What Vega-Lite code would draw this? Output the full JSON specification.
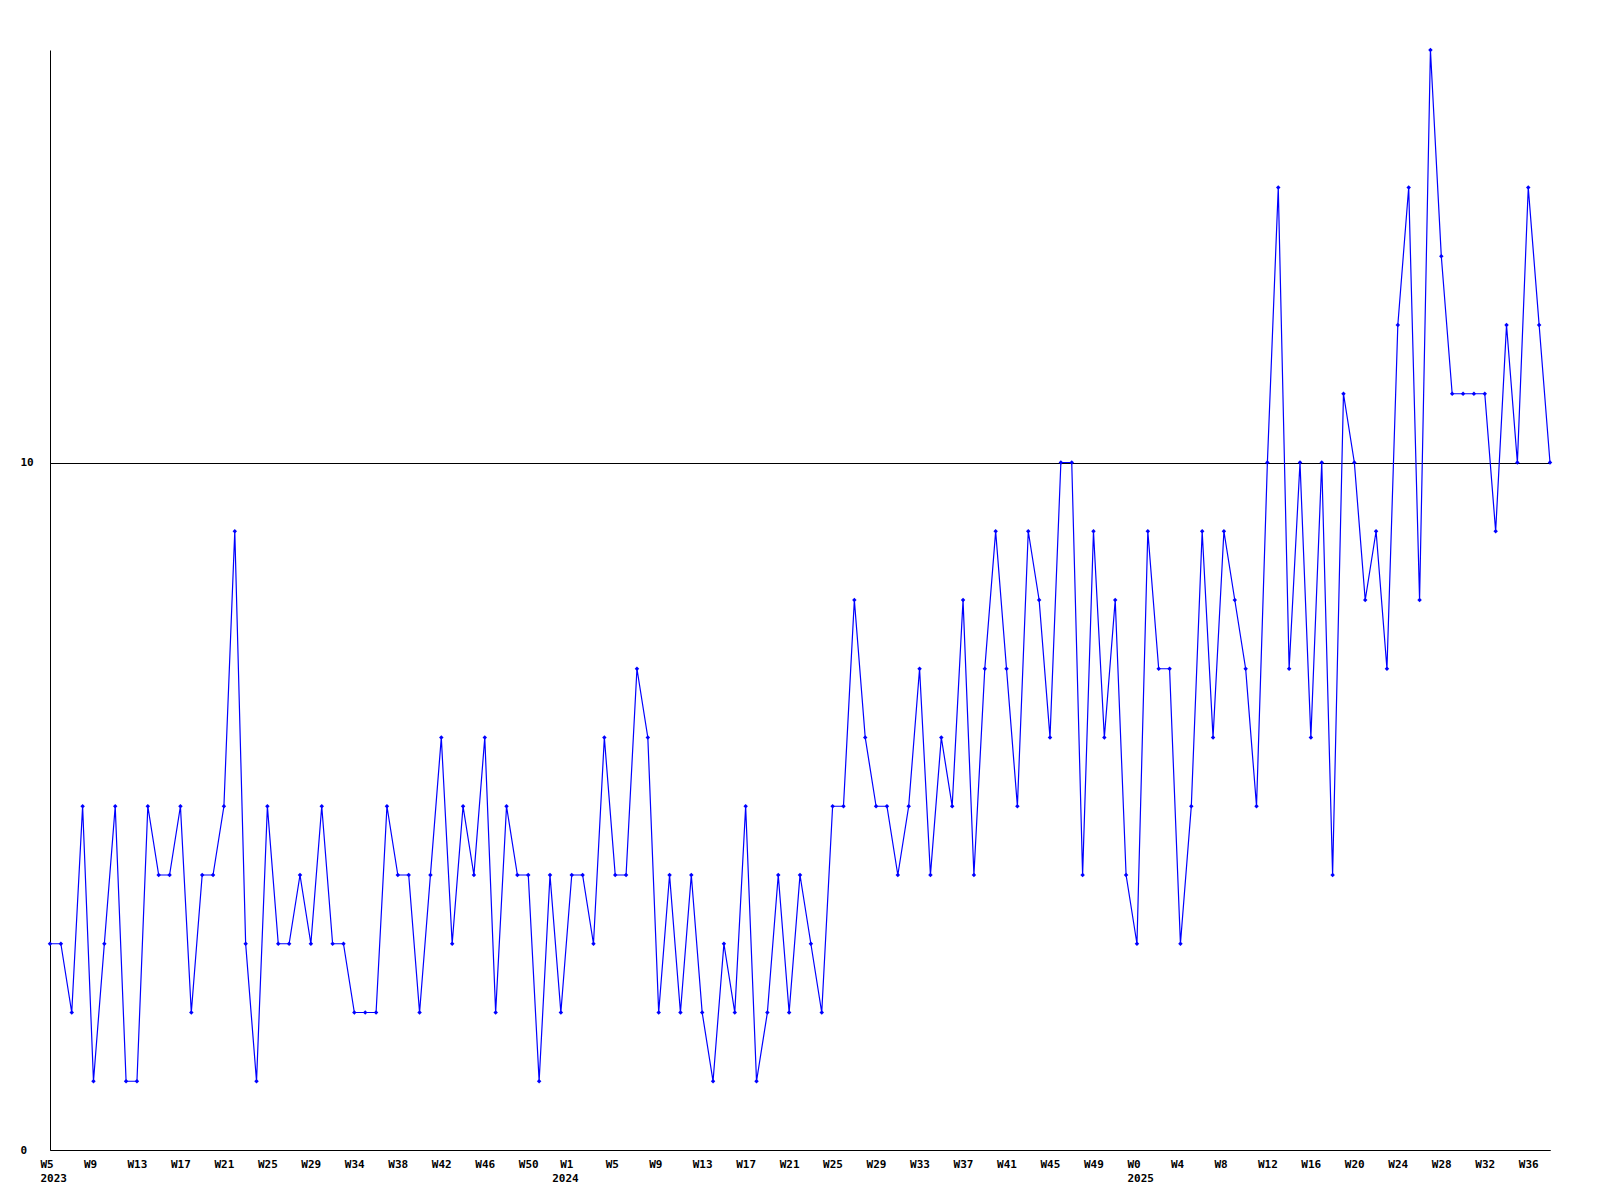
{
  "$schema": "https://vega.github.io/schema/vega-lite/v6.json",
  "autosize": {"type": "none"},
  "padding": {"left": 50, "top": 50, "right": 50, "bottom": 50},
  "width": 1500,
  "height": 1100,
  "background": "white",
  "config": {"view": {"stroke": null}},
  "data": {"values": [
    {"week": "2023-W05", "value": 3}, {"week": "2023-W06", "value": 3}, {"week": "2023-W07", "value": 2}, {"week": "2023-W08", "value": 5},
    {"week": "2023-W09", "value": 1}, {"week": "2023-W10", "value": 3}, {"week": "2023-W11", "value": 5}, {"week": "2023-W12", "value": 1},
    {"week": "2023-W13", "value": 1}, {"week": "2023-W14", "value": 5}, {"week": "2023-W15", "value": 4}, {"week": "2023-W16", "value": 4},
    {"week": "2023-W17", "value": 5}, {"week": "2023-W18", "value": 2}, {"week": "2023-W19", "value": 4}, {"week": "2023-W20", "value": 4},
    {"week": "2023-W21", "value": 5}, {"week": "2023-W22", "value": 9}, {"week": "2023-W23", "value": 3}, {"week": "2023-W24", "value": 1},
    {"week": "2023-W25", "value": 5}, {"week": "2023-W26", "value": 3}, {"week": "2023-W27", "value": 3}, {"week": "2023-W28", "value": 4},
    {"week": "2023-W29", "value": 3}, {"week": "2023-W30", "value": 5}, {"week": "2023-W31", "value": 3}, {"week": "2023-W33", "value": 3},
    {"week": "2023-W34", "value": 2}, {"week": "2023-W35", "value": 2}, {"week": "2023-W36", "value": 2}, {"week": "2023-W37", "value": 5},
    {"week": "2023-W38", "value": 4}, {"week": "2023-W39", "value": 4}, {"week": "2023-W40", "value": 2}, {"week": "2023-W41", "value": 4},
    {"week": "2023-W42", "value": 6}, {"week": "2023-W43", "value": 3}, {"week": "2023-W44", "value": 5}, {"week": "2023-W45", "value": 4},
    {"week": "2023-W46", "value": 6}, {"week": "2023-W47", "value": 2}, {"week": "2023-W48", "value": 5}, {"week": "2023-W49", "value": 4},
    {"week": "2023-W50", "value": 4}, {"week": "2023-W51", "value": 1}, {"week": "2023-W52", "value": 4}, {"week": "2023-W53", "value": 2},
    {"week": "2024-W01", "value": 4}, {"week": "2024-W02", "value": 4}, {"week": "2024-W03", "value": 3}, {"week": "2024-W04", "value": 6},
    {"week": "2024-W05", "value": 4}, {"week": "2024-W06", "value": 4}, {"week": "2024-W07", "value": 7}, {"week": "2024-W08", "value": 6},
    {"week": "2024-W09", "value": 2}, {"week": "2024-W10", "value": 4}, {"week": "2024-W11", "value": 2}, {"week": "2024-W12", "value": 4},
    {"week": "2024-W13", "value": 2}, {"week": "2024-W14", "value": 1}, {"week": "2024-W15", "value": 3}, {"week": "2024-W16", "value": 2},
    {"week": "2024-W17", "value": 5}, {"week": "2024-W18", "value": 1}, {"week": "2024-W19", "value": 2}, {"week": "2024-W20", "value": 4},
    {"week": "2024-W21", "value": 2}, {"week": "2024-W22", "value": 4}, {"week": "2024-W23", "value": 3}, {"week": "2024-W24", "value": 2},
    {"week": "2024-W25", "value": 5}, {"week": "2024-W26", "value": 5}, {"week": "2024-W27", "value": 8}, {"week": "2024-W28", "value": 6},
    {"week": "2024-W29", "value": 5}, {"week": "2024-W30", "value": 5}, {"week": "2024-W31", "value": 4}, {"week": "2024-W32", "value": 5},
    {"week": "2024-W33", "value": 7}, {"week": "2024-W34", "value": 4}, {"week": "2024-W35", "value": 6}, {"week": "2024-W36", "value": 5},
    {"week": "2024-W37", "value": 8}, {"week": "2024-W38", "value": 4}, {"week": "2024-W39", "value": 7}, {"week": "2024-W40", "value": 9},
    {"week": "2024-W41", "value": 7}, {"week": "2024-W42", "value": 5}, {"week": "2024-W43", "value": 9}, {"week": "2024-W44", "value": 8},
    {"week": "2024-W45", "value": 6}, {"week": "2024-W46", "value": 10}, {"week": "2024-W47", "value": 10}, {"week": "2024-W48", "value": 4},
    {"week": "2024-W49", "value": 9}, {"week": "2024-W50", "value": 6}, {"week": "2024-W51", "value": 8}, {"week": "2024-W52", "value": 4},
    {"week": "2025-W00", "value": 3}, {"week": "2025-W01", "value": 9}, {"week": "2025-W02", "value": 7}, {"week": "2025-W03", "value": 7},
    {"week": "2025-W04", "value": 3}, {"week": "2025-W05", "value": 5}, {"week": "2025-W06", "value": 9}, {"week": "2025-W07", "value": 6},
    {"week": "2025-W08", "value": 9}, {"week": "2025-W09", "value": 8}, {"week": "2025-W10", "value": 7}, {"week": "2025-W11", "value": 5},
    {"week": "2025-W12", "value": 10}, {"week": "2025-W13", "value": 14}, {"week": "2025-W14", "value": 7}, {"week": "2025-W15", "value": 10},
    {"week": "2025-W16", "value": 6}, {"week": "2025-W17", "value": 10}, {"week": "2025-W18", "value": 4}, {"week": "2025-W19", "value": 11},
    {"week": "2025-W20", "value": 10}, {"week": "2025-W21", "value": 8}, {"week": "2025-W22", "value": 9}, {"week": "2025-W23", "value": 7},
    {"week": "2025-W24", "value": 12}, {"week": "2025-W25", "value": 14}, {"week": "2025-W26", "value": 8}, {"week": "2025-W27", "value": 16},
    {"week": "2025-W28", "value": 13}, {"week": "2025-W29", "value": 11}, {"week": "2025-W30", "value": 11}, {"week": "2025-W31", "value": 11},
    {"week": "2025-W32", "value": 11}, {"week": "2025-W33", "value": 9}, {"week": "2025-W34", "value": 12}, {"week": "2025-W35", "value": 10},
    {"week": "2025-W36", "value": 14}, {"week": "2025-W37", "value": 12}, {"week": "2025-W38", "value": 10}
  ]},
  "encoding": {
    "x": {
      "field": "week",
      "type": "ordinal",
      "sort": null,
      "scale": {"type": "point", "padding": 0},
      "axis": {
        "title": null,
        "values": ["2023-W05", "2023-W09", "2023-W13", "2023-W17", "2023-W21", "2023-W25", "2023-W29", "2023-W34", "2023-W38", "2023-W42", "2023-W46", "2023-W50",
                   "2024-W01", "2024-W05", "2024-W09", "2024-W13", "2024-W17", "2024-W21", "2024-W25", "2024-W29", "2024-W33", "2024-W37", "2024-W41", "2024-W45", "2024-W49",
                   "2025-W00", "2025-W04", "2025-W08", "2025-W12", "2025-W16", "2025-W20", "2025-W24", "2025-W28", "2025-W32", "2025-W36"],
        "labelExpr": "datum.value == '2024-W01' ? ['\u2800W1', '2024'] : indexof(['2023-W05','2025-W00'], datum.value) >= 0 ? ['W' + toNumber(substring(datum.value, 6)), substring(datum.value, 0, 4)] : 'W' + toNumber(substring(datum.value, 6))",
        "labelAngle": 0,
        "labelAlign": "left",
        "labelBaseline": "top",
        "labelOffset": {"condition": {"test": "datum.value == '2024-W01'", "value": -20}, "value": -10},
        "labelPadding": 8,
        "labelLineHeight": 14,
        "labelOverlap": false,
        "labelBound": false,
        "labelFlush": false,
        "labelFont": "DejaVu Sans Mono",
        "labelFontWeight": "bold",
        "labelFontSize": 11,
        "labelColor": "black",
        "ticks": false,
        "tickSize": 0,
        "grid": false,
        "domainColor": "black",
        "domainWidth": 1
      }
    },
    "y": {
      "field": "value",
      "type": "quantitative",
      "scale": {"domain": [0, 16], "nice": false, "zero": true},
      "axis": {
        "title": null,
        "values": [0, 10],
        "grid": true,
        "gridColor": "black",
        "gridOpacity": 1,
        "gridWidth": 1,
        "ticks": false,
        "tickSize": 0,
        "labelAlign": "left",
        "labelBaseline": "middle",
        "labelPadding": 30,
        "labelFont": "DejaVu Sans Mono",
        "labelFontWeight": "bold",
        "labelFontSize": 11,
        "labelColor": "black",
        "domainColor": "black",
        "domainWidth": 1
      }
    }
  },
  "layer": [
    {"mark": {"type": "line", "color": "#0000ff", "strokeWidth": 1.2, "interpolate": "linear"}},
    {"mark": {"type": "point", "shape": "diamond", "filled": true, "color": "#0000ff", "size": 20, "opacity": 1}}
  ]
}
